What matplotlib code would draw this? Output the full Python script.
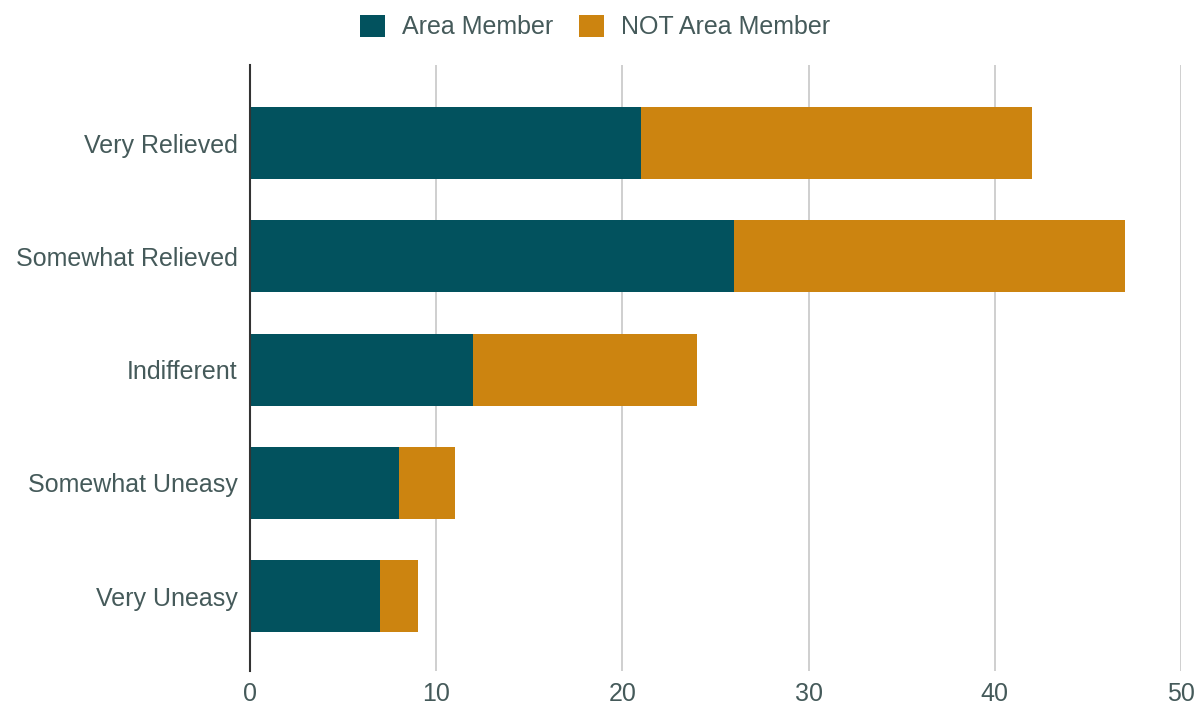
import matplotlib
matplotlib.use("Agg")
import matplotlib.pyplot as plt
from matplotlib.patches import Patch

categories = ["Very Relieved", "Somewhat Relieved", "Indifferent", "Somewhat Uneasy", "Very Uneasy"]
area_member = [21, 26, 12, 8, 7]
not_area_member = [21, 21, 12, 3, 2]
series_names = ["Area Member", "NOT Area Member"]
xticks = [0, 10, 20, 30, 40, 50]

teal = "#02525e"
orange = "#cc8410"
text_color = "#455a5a"

plt.rcParams['font.family'] = ['Liberation Sans', 'DejaVu Sans']

fig = plt.figure(figsize=(11.96, 7.04), dpi=100)
ax = fig.add_axes([250/1196, 1 - 671/704, (1181-250)/1196, (671-65)/704])

y = list(range(len(categories)))
ax.barh(y, area_member, height=0.636, color=teal, zorder=3)
ax.barh(y, not_area_member, left=area_member, height=0.636, color=orange, zorder=3)

ax.set_ylim(len(categories) - 1 + 0.66, -0.69)
ax.set_xlim(0, 50)
ax.set_yticks(y)
ax.set_yticklabels(categories, fontsize=18, color=text_color)
ax.set_xticks(xticks)
ax.set_xticklabels([str(t) for t in xticks], fontsize=18, color=text_color)
ax.tick_params(axis='y', length=0, pad=9)
ax.tick_params(axis='x', length=0, pad=8)

for t in xticks[1:]:
    ax.axvline(t, color="#cccccc", linewidth=1.3, zorder=1)
for s in ["top", "right", "bottom"]:
    ax.spines[s].set_visible(False)
ax.spines["left"].set_color("#333333")
ax.spines["left"].set_linewidth(1.5)
ax.spines["left"].set_zorder(4)

handles = [Patch(facecolor=teal, edgecolor='none'), Patch(facecolor=orange, edgecolor='none')]
fig.legend(handles, series_names, loc="center", bbox_to_anchor=(595/1196, 1 - 27/704), ncol=2,
           frameon=False, fontsize=18, labelcolor=text_color, handlelength=1.0, handleheight=1.0,
           handletextpad=0.7, columnspacing=1.0)

fig.savefig("out.png", dpi=100)
